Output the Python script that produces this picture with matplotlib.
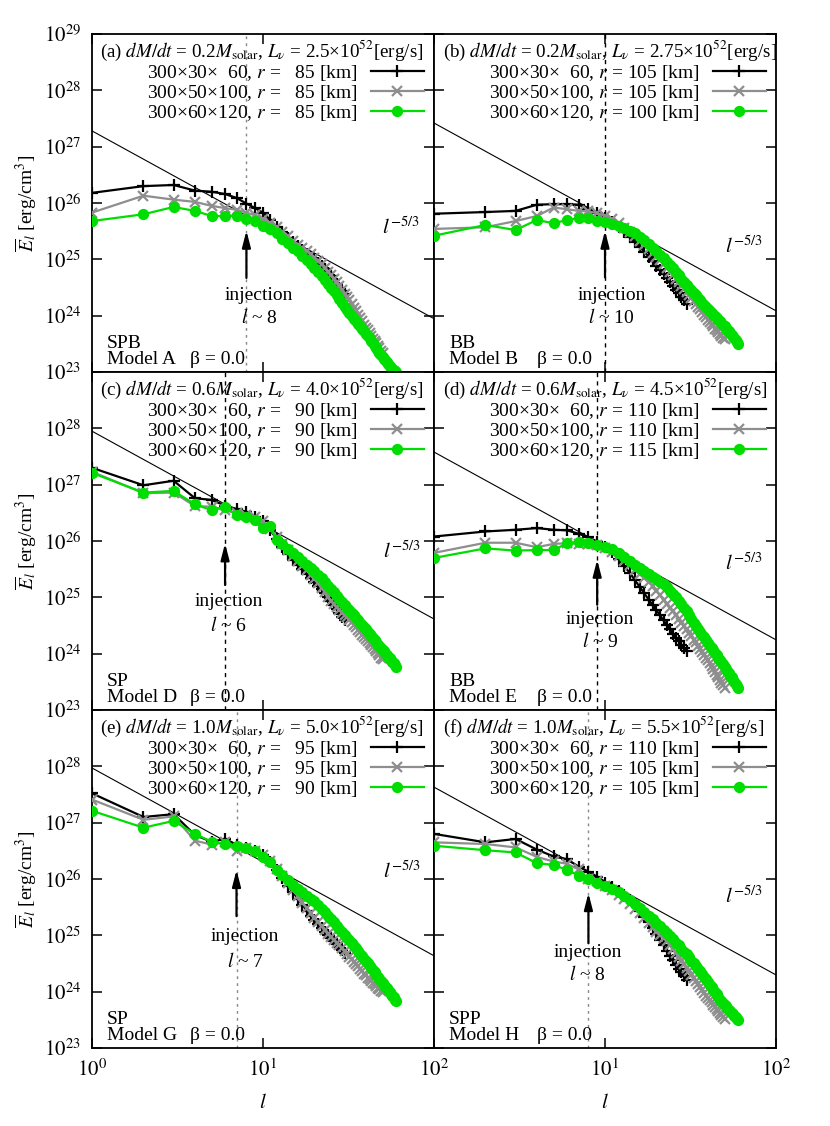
import numpy as np
from matplotlib import pyplot as plt
from matplotlib.ticker import FixedLocator, NullLocator, FuncFormatter

plt.rcParams['font.family'] = ['Liberation Serif', 'DejaVu Serif']
plt.rcParams['mathtext.fontset'] = 'stix'
plt.rcParams['font.size'] = 14

# log10 of E_l for l = 1, 2, 3, ... (black: 300x30x60, gray: 300x50x100, green: 300x60x120)
a_black = [26.18, 26.30, 26.32, 26.22, 26.20, 26.16, 26.09, 25.99, 25.91, 25.83,
           25.70, 25.58, 25.48, 25.38, 25.30, 25.23, 25.16, 25.10, 25.05, 25.00,
           24.94, 24.88, 24.82, 24.76, 24.70, 24.63, 24.57, 24.50, 24.44, 24.38]
a_gray = [25.83, 26.13, 26.06, 26.02, 25.95, 25.91, 25.88, 25.83, 25.78, 25.72,
          25.65, 25.57, 25.49, 25.41, 25.33, 25.26, 25.20, 25.14, 25.09, 25.03,
          24.97, 24.91, 24.85, 24.78, 24.72, 24.66, 24.59, 24.52, 24.46, 24.39,
          24.33, 24.27, 24.20, 24.14, 24.08, 24.02, 23.96, 23.90, 23.84, 23.79,
          23.74, 23.69, 23.64, 23.59, 23.55, 23.51, 23.46, 23.42, 23.38, 23.34]
a_green = [25.68, 25.80, 25.93, 25.86, 25.77, 25.77, 25.77, 25.72, 25.68, 25.60,
           25.54, 25.46, 25.37, 25.29, 25.21, 25.14, 25.06, 24.99, 24.92, 24.85,
           24.77, 24.70, 24.63, 24.57, 24.50, 24.43, 24.36, 24.29, 24.22, 24.15,
           24.10, 24.05, 24.00, 23.95, 23.90, 23.85, 23.81, 23.76, 23.72, 23.68,
           23.64, 23.60, 23.55, 23.51, 23.47, 23.42, 23.38, 23.34, 23.30, 23.27,
           23.24, 23.21, 23.18, 23.14, 23.11, 23.08, 23.06, 23.04, 23.02, 23.00]

b_black = [25.81, 25.84, 25.86, 25.97, 25.98, 25.98, 25.97, 25.90, 25.83, 25.74,
           25.66, 25.57, 25.48, 25.39, 25.31, 25.22, 25.13, 25.05, 24.97, 24.89,
           24.81, 24.74, 24.67, 24.60, 24.53, 24.46, 24.40, 24.33, 24.27, 24.21]
b_gray = [25.54, 25.57, 25.68, 25.77, 25.92, 25.89, 25.86, 25.85, 25.82, 25.77,
          25.71, 25.64, 25.56, 25.48, 25.41, 25.33, 25.25, 25.18, 25.11, 25.04,
          24.98, 24.91, 24.85, 24.78, 24.72, 24.66, 24.59, 24.53, 24.48, 24.42,
          24.37, 24.31, 24.26, 24.21, 24.16, 24.11, 24.06, 24.01, 23.97, 23.93,
          23.89, 23.85, 23.81, 23.77, 23.74, 23.71, 23.67, 23.64, 23.61, 23.58]
b_green = [25.42, 25.61, 25.52, 25.70, 25.64, 25.70, 25.73, 25.74, 25.68, 25.67,
           25.63, 25.59, 25.55, 25.51, 25.46, 25.40, 25.34, 25.27, 25.21, 25.14,
           25.08, 25.02, 24.96, 24.90, 24.84, 24.78, 24.72, 24.66, 24.60, 24.54,
           24.49, 24.45, 24.40, 24.36, 24.31, 24.27, 24.23, 24.19, 24.15, 24.12,
           24.08, 24.05, 24.02, 23.99, 23.96, 23.93, 23.90, 23.87, 23.84, 23.81,
           23.78, 23.75, 23.72, 23.69, 23.66, 23.63, 23.60, 23.57, 23.53, 23.50]

c_black = [27.30, 26.99, 27.07, 26.76, 26.73, 26.63, 26.57, 26.52, 26.43, 26.35,
           26.20, 26.04, 25.90, 25.77, 25.66, 25.58, 25.50, 25.42, 25.35, 25.28,
           25.21, 25.14, 25.07, 25.00, 24.93, 24.86, 24.80, 24.73, 24.66, 24.60]
c_gray = [27.23, 26.85, 26.86, 26.62, 26.61, 26.55, 26.49, 26.46, 26.42, 26.35,
          26.22, 26.08, 25.95, 25.84, 25.74, 25.65, 25.56, 25.48, 25.40, 25.33,
          25.25, 25.17, 25.09, 25.01, 24.93, 24.88, 24.83, 24.78, 24.73, 24.69,
          24.65, 24.60, 24.56, 24.51, 24.47, 24.42, 24.38, 24.34, 24.30, 24.26,
          24.23, 24.19, 24.15, 24.12, 24.08, 24.04, 24.01, 23.97, 23.93, 23.90]
c_green = [27.21, 26.86, 26.89, 26.65, 26.55, 26.61, 26.46, 26.43, 26.38, 26.23,
           26.26, 26.02, 25.95, 25.86, 25.78, 25.71, 25.64, 25.58, 25.53, 25.47,
           25.40, 25.34, 25.27, 25.21, 25.15, 25.09, 25.03, 24.97, 24.91, 24.86,
           24.81, 24.77, 24.72, 24.68, 24.63, 24.59, 24.55, 24.51, 24.47, 24.43,
           24.39, 24.35, 24.31, 24.28, 24.24, 24.20, 24.16, 24.13, 24.10, 24.07,
           24.04, 24.01, 23.98, 23.95, 23.92, 23.89, 23.86, 23.83, 23.80, 23.77]

d_black = [26.08, 26.17, 26.20, 26.23, 26.20, 26.19, 26.13, 26.07, 25.99, 25.90,
           25.80, 25.68, 25.55, 25.43, 25.30, 25.18, 25.07, 24.96, 24.86, 24.77,
           24.68, 24.59, 24.51, 24.43, 24.35, 24.28, 24.22, 24.16, 24.10, 24.05]
d_gray = [25.79, 25.97, 25.97, 25.89, 25.95, 25.96, 25.95, 25.95, 25.93, 25.87,
          25.80, 25.73, 25.65, 25.57, 25.49, 25.41, 25.34, 25.27, 25.20, 25.12,
          25.04, 24.96, 24.89, 24.82, 24.75, 24.68, 24.61, 24.55, 24.49, 24.43,
          24.37, 24.31, 24.25, 24.20, 24.14, 24.09, 24.03, 23.98, 23.93, 23.88,
          23.83, 23.78, 23.73, 23.68, 23.63, 23.58, 23.53, 23.48, 23.44, 23.40]
d_green = [25.70, 25.87, 25.83, 25.84, 25.84, 25.96, 25.99, 25.97, 25.93, 25.90,
           25.86, 25.79, 25.71, 25.64, 25.58, 25.52, 25.47, 25.42, 25.37, 25.33,
           25.28, 25.24, 25.18, 25.12, 25.06, 25.00, 24.94, 24.88, 24.82, 24.76,
           24.69, 24.62, 24.55, 24.49, 24.44, 24.39, 24.34, 24.29, 24.24, 24.19,
           24.14, 24.10, 24.06, 24.02, 23.98, 23.93, 23.89, 23.85, 23.81, 23.77,
           23.73, 23.69, 23.65, 23.61, 23.58, 23.54, 23.50, 23.46, 23.43, 23.39]

e_black = [27.52, 27.10, 27.15, 26.78, 26.66, 26.71, 26.61, 26.55, 26.50, 26.42,
           26.30, 26.16, 26.02, 25.88, 25.76, 25.65, 25.54, 25.44, 25.35, 25.27,
           25.20, 25.13, 25.06, 25.00, 24.95, 24.89, 24.84, 24.79, 24.74, 24.69]
e_gray = [27.41, 27.05, 27.11, 26.68, 26.61, 26.65, 26.49, 26.55, 26.50, 26.43,
          26.32, 26.18, 26.05, 25.92, 25.80, 25.69, 25.58, 25.48, 25.39, 25.31,
          25.23, 25.16, 25.09, 25.03, 24.97, 24.92, 24.87, 24.82, 24.77, 24.72,
          24.67, 24.62, 24.58, 24.53, 24.49, 24.45, 24.41, 24.36, 24.32, 24.29,
          24.25, 24.22, 24.19, 24.16, 24.13, 24.10, 24.07, 24.04, 24.02, 23.99]
e_green = [27.21, 26.91, 27.03, 26.80, 26.66, 26.62, 26.59, 26.55, 26.49, 26.39,
           26.30, 26.16, 26.07, 25.98, 25.90, 25.82, 25.76, 25.70, 25.65, 25.60,
           25.54, 25.47, 25.41, 25.35, 25.29, 25.23, 25.17, 25.11, 25.05, 25.00,
           24.96, 24.91, 24.86, 24.81, 24.77, 24.72, 24.67, 24.63, 24.58, 24.54,
           24.50, 24.46, 24.42, 24.38, 24.34, 24.30, 24.26, 24.22, 24.19, 24.16,
           24.12, 24.09, 24.06, 24.03, 24.00, 23.96, 23.93, 23.90, 23.86, 23.83]

f_black = [26.80, 26.65, 26.71, 26.52, 26.40, 26.35, 26.22, 26.13, 26.04, 25.93,
           25.86, 25.78, 25.71, 25.63, 25.53, 25.43, 25.33, 25.23, 25.13, 25.03,
           24.92, 24.82, 24.73, 24.64, 24.56, 24.48, 24.41, 24.34, 24.27, 24.21]
f_gray = [26.65, 26.62, 26.56, 26.39, 26.31, 26.27, 26.17, 26.00, 25.96, 25.87,
          25.80, 25.72, 25.64, 25.56, 25.47, 25.39, 25.30, 25.22, 25.14, 25.06,
          25.01, 24.96, 24.90, 24.83, 24.76, 24.69, 24.62, 24.55, 24.49, 24.42,
          24.36, 24.30, 24.24, 24.18, 24.13, 24.08, 24.03, 23.98, 23.93, 23.89,
          23.85, 23.81, 23.77, 23.73, 23.69, 23.66, 23.62, 23.59, 23.55, 23.52]
f_green = [26.59, 26.51, 26.47, 26.28, 26.25, 26.16, 26.06, 26.00, 25.93, 25.88,
           25.82, 25.76, 25.70, 25.63, 25.56, 25.49, 25.42, 25.35, 25.29, 25.22,
           25.16, 25.10, 25.04, 24.98, 24.93, 24.87, 24.82, 24.76, 24.71, 24.66,
           24.61, 24.55, 24.50, 24.46, 24.41, 24.36, 24.31, 24.26, 24.22, 24.17,
           24.12, 24.08, 24.03, 23.99, 23.95, 23.91, 23.86, 23.83, 23.80, 23.77,
           23.74, 23.71, 23.68, 23.65, 23.62, 23.60, 23.57, 23.55, 23.52, 23.50]

panels = ['a', 'b', 'c', 'd', 'e', 'f']
series = [(a_black, a_gray, a_green), (b_black, b_gray, b_green),
          (c_black, c_gray, c_green), (d_black, d_gray, d_green),
          (e_black, e_gray, e_green), (f_black, f_gray, f_green)]
mdot = ['0.2', '0.2', '0.6', '0.6', '1.0', '1.0']
lnu = ['2.5', '2.75', '4.0', '4.5', '5.0', '5.5']
radii = [[85, 85, 85], [105, 105, 100], [90, 90, 90],
         [110, 110, 115], [95, 95, 90], [110, 105, 105]]
grids = ['300×30×  60', '300×50×100', '300×60×120']
shock = ['SPB', 'BB', 'SP', 'BB', 'SP', 'SPP']
model = ['A', 'B', 'D', 'E', 'G', 'H']
inj = [8, 10, 6, 9, 7, 8]
fit_amp = [27.28, 27.42, 27.95, 27.58, 27.97, 27.63]  # log10 of the l^-5/3 line at l=1

# annotation placement (log10 E): arrow head, arrow tail, "injection", "l ~"
arrow_y = [(25.51, 24.67, 24.35, 23.96), (25.51, 24.68, 24.35, 23.96),
           (25.96, 25.22, 24.92, 24.50), (25.67, 24.87, 24.60, 24.22),
           (26.16, 25.34, 24.98, 24.54), (25.75, 24.86, 24.69, 24.30)]
text_x = [9.5, 10.9, 6.3, 9.35, 7.85, 7.9]
slope_pos = [(49.6, 25.45), (50.3, 25.12), (50, 25.70), (50.3, 25.49), (50, 26.02), (50.3, 25.58)]
vline_style = [('#888888', (0, (2, 3))), ('k', (0, (3, 3))), ('k', (0, (3, 3))),
               ('k', (0, (3, 3))), ('#888888', (0, (2, 3))), ('#888888', (0, (2, 3)))]

fig = plt.figure(figsize=(8.3, 11.26), dpi=100)
lefts = [92 / 830, 434 / 830]
bottoms = [0.6696, 0.3694, 0.0693]
w, h = 342 / 830, 0.3002

colors = ['black', '#8e8e8e', '#00dd00']
markers = ['+', 'x', 'o']
msizes = [9, 7.5, 6.5]


def rlabel(grid, r):
    # gnuplot pads the two-digit radii with extra blanks
    if r < 100:
        return f'{grid}, $r$ =   {r} [km]'
    return f'{grid}, $r$ = {r} [km]'


for i, p in enumerate(panels):
    row, col = i // 2, i % 2
    ax = fig.add_axes([lefts[col], bottoms[row], w, h])
    ax.set_xscale('log')
    ax.set_yscale('log')

    for k in range(3):
        vals = 10 ** np.array(series[i][k])
        l = np.arange(1, len(vals) + 1)
        ax.plot(l, vals, color=colors[k], marker=markers[k], ms=msizes[k],
                mew=1.6, lw=1.6, label=rlabel(grids[k], radii[i][k]), zorder=3 + k)

    # Kolmogorov slope
    ll = np.array([1.0, 100.0])
    ax.plot(ll, 10 ** fit_amp[i] * ll ** (-5 / 3), color='k', lw=0.8, zorder=2)
    ax.text(slope_pos[i][0], 10 ** slope_pos[i][1], '$l^{-5/3}$', fontsize=15)

    c, ls = vline_style[i]
    ax.axvline(inj[i], color=c, ls=ls, lw=1.0, zorder=1)
    hy, ty, iy, ly = arrow_y[i]
    ax.annotate('', xy=(inj[i], 10 ** hy), xytext=(inj[i], 10 ** ty),
                arrowprops=dict(arrowstyle='-|>,head_length=0.7,head_width=0.18',
                                color='k', lw=1.6, shrinkA=0, shrinkB=0))
    ax.text(text_x[i], 10 ** iy, 'injection', ha='center', va='center')
    ax.text(text_x[i], 10 ** ly, f'$l$ ~ {inj[i]}', ha='center', va='center')

    ax.text(0.022 if col == 0 else 0.026, 0.931,
            f'({p}) $dM/dt$ = {mdot[i]}$M_{{\\rm solar}}$, $L_\\nu$ = {lnu[i]}×10$^{{52}}$[erg/s]',
            transform=ax.transAxes, fontsize=13.7)
    ax.legend(loc='upper right', bbox_to_anchor=(0.97, 0.914), frameon=False,
              markerfirst=False, handlelength=2.7, handletextpad=0.7,
              labelspacing=0.0, borderpad=0, borderaxespad=0, numpoints=1)

    ax.text(0.044, 0.071, shock[i], transform=ax.transAxes)
    ax.text(0.044, 0.024, f'Model {model[i]}', transform=ax.transAxes)
    ax.text(0.287 if col == 0 else 0.30, 0.024, 'β = 0.0', transform=ax.transAxes)

    ax.set_xlim(1, 100)
    ax.set_ylim(1e23, 1e29)
    ax.xaxis.set_major_locator(FixedLocator([1, 10, 100]))
    ax.yaxis.set_major_locator(FixedLocator([10.0 ** e for e in range(23, 30)]))
    ax.xaxis.set_minor_locator(NullLocator())
    ax.yaxis.set_minor_locator(NullLocator())
    ax.xaxis.set_major_formatter(FuncFormatter(
        lambda v, pos, col=col: '' if (col == 1 and v < 2) else '$10^{%d}$' % round(np.log10(v))))
    ax.yaxis.set_major_formatter(FuncFormatter(
        lambda v, pos, row=row: '' if (row > 0 and v > 5e28) else '$10^{%d}$' % round(np.log10(v))))
    ax.tick_params(direction='in', length=7, width=1.1, top=True, right=True, pad=8,
                   labelsize=15)
    for s in ax.spines.values():
        s.set_linewidth(1.3)
    if col == 1:
        ax.tick_params(labelleft=False)
    else:
        ax.set_ylabel(r'$\overline{E}_l$ [erg/cm$^3$]')
        ax.yaxis.set_label_coords(-0.155, 0.5)
    if row < 2:
        ax.tick_params(labelbottom=False)
    else:
        ax.set_xlabel('$l$', fontsize=15)
        ax.xaxis.set_label_coords(0.5, -0.135)

fig.savefig('out.png', dpi=100)
